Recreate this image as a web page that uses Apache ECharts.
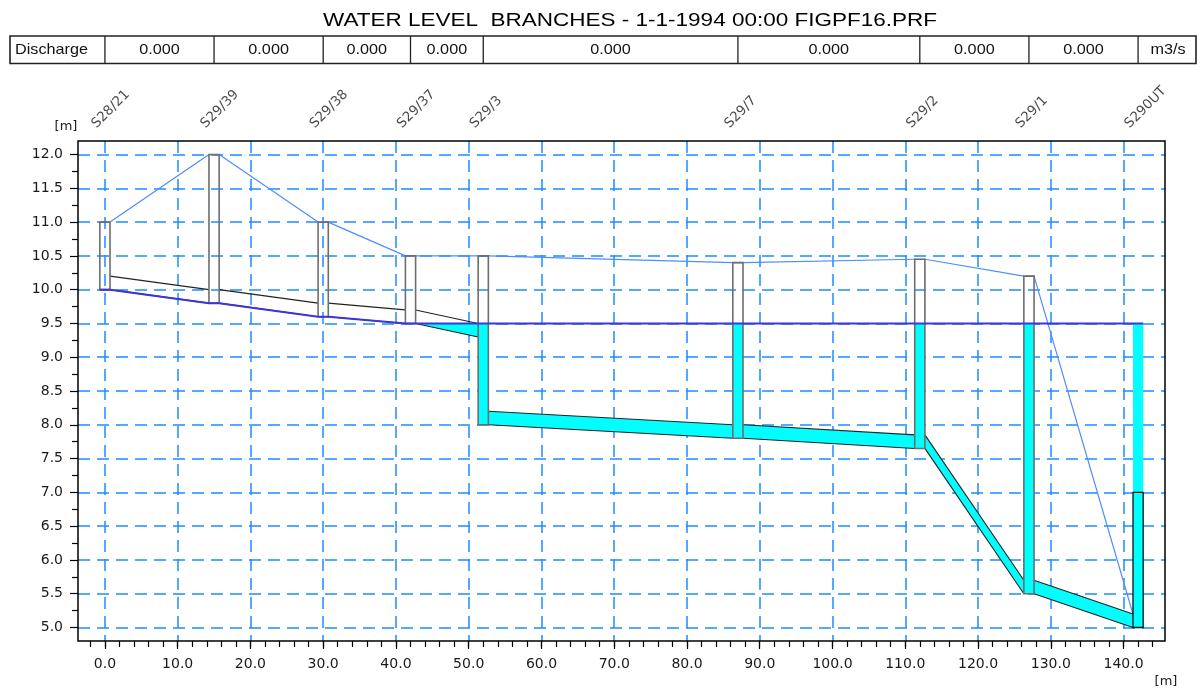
<!DOCTYPE html>
<html>
<head>
<meta charset="utf-8">
<title>Water level branches</title>
<script src="https://cdn.jsdelivr.net/npm/echarts@6/dist/echarts.min.js"></script>
<style>
  html, body { margin: 0; padding: 0; background: #fff; }
  #chart { width: 1200px; height: 689px; }
</style>
</head>
<body>
<div id="chart"></div>
<script>
// ---- Longitudinal profile data (levels in m, chainage in m) ----
const stations    = ['S28/21', 'S29/39', 'S29/38', 'S29/37', 'S29/3', 'S29/7', 'S29/2', 'S29/1', 'S290UT'];
const chainage    = [0, 15, 30, 42, 52, 87, 112, 127, 142];
const nodeBottom  = [10.0, 9.8, 9.6, 9.5, 8.0, 7.8, 7.65, 5.5, 5.0];
const nodeTop     = [11.0, 12.0, 11.0, 10.5, 10.5, 10.4, 10.45, 10.2, 7.0];
const groundLevel = [11.0, 12.0, 11.0, 10.5, 10.5, 10.4, 10.45, 10.2, 5.2];
const waterLevel  = [10.0, 9.8, 9.6, 9.5, 9.5, 9.5, 9.5, 9.5, 9.5];

// conduits between consecutive nodes (upstream / downstream end)
const bedUp     = [10.0, 9.8, 9.6, 9.5, 8.0, 7.8, 7.65, 5.5];
const bedDown   = [9.8, 9.6, 9.5, 9.3, 7.8, 7.65, 5.5, 5.0];
const crownUp   = [10.2, 10.0, 9.8, 9.7, 8.2, 8.0, 7.85, 5.7];
const crownDown = [10.0, 9.8, 9.7, 9.5, 8.0, 7.85, 5.7, 5.2];
const discharge = [0, 0, 0, 0, 0, 0, 0, 0];

// axis ticks
const xMajorTicks = [0, 10, 20, 30, 40, 50, 60, 70, 80, 90, 100, 110, 120, 130, 140];
const yMajorTicks = [5.0, 5.5, 6.0, 6.5, 7.0, 7.5, 8.0, 8.5, 9.0, 9.5, 10.0, 10.5, 11.0, 11.5, 12.0];
const xMinorTicks = [];
for (let v = -2; v <= 144; v += 2) xMinorTicks.push(v);
const yMinorTicks = [];
for (let v = 5.25; v < 12; v += 0.5) yMinorTicks.push(Math.round(v * 100) / 100);

const X_MIN = -3.7, X_MAX = 145.7, Y_MIN = 4.8, Y_MAX = 12.2;
const NODE_HALF = 0.7;          // half width of a manhole box
const GRID = { left: 78, top: 141, right: 35, bottom: 48 };
const W = 1200, H = 689;

const LABEL_FONT = '"DejaVu Sans", "Liberation Sans", sans-serif';
const TEXT_FONT = '"Liberation Sans", Arial, Helvetica, sans-serif';
const GRID_BLUE = '#1e8cff';
const CYAN = '#00ffff';

// ---- derived polylines ----
const waterLine = [];
chainage.forEach((c, i) => {
  waterLine.push([c - NODE_HALF, waterLevel[i]]);
  waterLine.push([c + NODE_HALF, waterLevel[i]]);
});
const groundLine = [];
chainage.forEach((c, i) => {
  if (i > 0) groundLine.push([c - NODE_HALF, groundLevel[i]]);
  if (i < chainage.length - 1) groundLine.push([c + NODE_HALF, groundLevel[i]]);
});
const reachData = bedUp.map((_, i) => [
  chainage[i] + NODE_HALF, chainage[i + 1] - NODE_HALF,
  bedUp[i], bedDown[i], crownUp[i], crownDown[i], waterLevel[i], waterLevel[i + 1]
]);
const nodeData = chainage.map((c, i) => [c, nodeBottom[i], nodeTop[i], waterLevel[i], i]);

// ---- render helpers ----
function nodeWaterItem(params, api) {
  const c = api.value(0), b = api.value(1), wl = api.value(3);
  if (wl <= b) return { type: 'group', children: [] };
  const p1 = api.coord([c - NODE_HALF, wl]);
  const p2 = api.coord([c + NODE_HALF, b]);
  return {
    type: 'rect',
    shape: { x: p1[0], y: p1[1], width: p2[0] - p1[0], height: p2[1] - p1[1] },
    style: { fill: CYAN }
  };
}

function nodeBoxItem(params, api) {
  const c = api.value(0), b = api.value(1), t = api.value(2), idx = api.value(4);
  const p1 = api.coord([c - NODE_HALF, t]);
  const p2 = api.coord([c + NODE_HALF, b]);
  const outlet = idx === chainage.length - 1;
  return {
    type: 'rect',
    shape: { x: p1[0], y: p1[1], width: p2[0] - p1[0], height: p2[1] - p1[1] },
    style: { fill: null, stroke: outlet ? '#111' : '#6e6e6e', lineWidth: outlet ? 1.3 : 1.6 }
  };
}

function reachItem(params, api) {
  const x0 = api.value(0), x1 = api.value(1);
  const bu = api.value(2), bd = api.value(3), cu = api.value(4), cd = api.value(5);
  const wu = api.value(6), wd = api.value(7);
  const su = Math.max(bu, Math.min(cu, wu));
  const sd = Math.max(bd, Math.min(cd, wd));
  const children = [];
  if (su > bu || sd > bd) {
    children.push({
      type: 'polygon',
      shape: { points: [[x0, bu], [x1, bd], [x1, sd], [x0, su]].map(p => api.coord(p)) },
      style: { fill: CYAN }
    });
  }
  children.push({
    type: 'polyline',
    shape: { points: [api.coord([x0, cu]), api.coord([x1, cd])] },
    style: { stroke: '#222', lineWidth: 1.1, fill: null }
  });
  children.push({
    type: 'polyline',
    shape: { points: [api.coord([x0, bu]), api.coord([x1, bd])] },
    style: { stroke: '#222', lineWidth: 1.1, fill: null }
  });
  return { type: 'group', children };
}

const chart = echarts.init(document.getElementById('chart'), null, { renderer: 'canvas' });

const axisLabelStyle = { color: '#1a1a1a', fontSize: 14, fontFamily: LABEL_FONT };
const hiddenLine = { show: false, onZero: false };

chart.setOption({
  animation: false,
  backgroundColor: '#fff',
  grid: Object.assign({ containLabel: false, outerBoundsMode: 'none' }, GRID),
  xAxis: [
    {
      type: 'value', position: 'bottom', min: X_MIN, max: X_MAX,
      minInterval: 10, maxInterval: 10,
      axisLine: hiddenLine,
      axisTick: { show: true, length: 8, customValues: xMajorTicks, lineStyle: { color: '#000', width: 1.2 } },
      axisLabel: Object.assign({ margin: 16, customValues: xMajorTicks, formatter: v => v.toFixed(1) }, axisLabelStyle),
      splitLine: { show: true, lineStyle: { color: GRID_BLUE, width: 1.5, type: [12, 7] } }
    },
    {
      type: 'value', position: 'bottom', min: X_MIN, max: X_MAX,
      axisLine: hiddenLine,
      axisTick: { show: true, length: 6, customValues: xMinorTicks, lineStyle: { color: '#000', width: 1.2 } },
      axisLabel: { show: false },
      splitLine: { show: false }
    }
  ],
  yAxis: [
    {
      type: 'value', position: 'left', min: Y_MIN, max: Y_MAX,
      minInterval: 0.5, maxInterval: 0.5,
      axisLine: hiddenLine,
      axisTick: { show: true, length: 8, customValues: yMajorTicks, lineStyle: { color: '#000', width: 1.2 } },
      axisLabel: Object.assign({ margin: 15, customValues: yMajorTicks, formatter: v => v.toFixed(1) }, axisLabelStyle),
      splitLine: { show: true, lineStyle: { color: GRID_BLUE, width: 1.5, type: [12, 7] } }
    },
    {
      type: 'value', position: 'left', min: Y_MIN, max: Y_MAX,
      axisLine: hiddenLine,
      axisTick: { show: true, length: 6, customValues: yMinorTicks, lineStyle: { color: '#000', width: 1.2 } },
      axisLabel: { show: false },
      splitLine: { show: false }
    }
  ],
  series: [
    {
      name: 'node water', type: 'custom', z: 2, xAxisIndex: 0, yAxisIndex: 0,
      data: nodeData, encode: { x: 0, y: [1, 2] }, renderItem: nodeWaterItem
    },
    {
      name: 'conduits', type: 'custom', z: 3, xAxisIndex: 0, yAxisIndex: 0,
      data: reachData, encode: { x: [0, 1], y: [2, 3, 4, 5] }, renderItem: reachItem
    },
    {
      name: 'ground level', type: 'line', z: 4, xAxisIndex: 0, yAxisIndex: 0,
      data: groundLine, showSymbol: false, symbol: 'none',
      lineStyle: { color: '#4d8eff', width: 1.2 }
    },
    {
      name: 'manholes', type: 'custom', z: 5, xAxisIndex: 0, yAxisIndex: 0,
      data: nodeData, encode: { x: 0, y: [1, 2] }, renderItem: nodeBoxItem
    },
    {
      name: 'water level', type: 'line', z: 6, xAxisIndex: 0, yAxisIndex: 0,
      data: waterLine, showSymbol: false, symbol: 'none',
      lineStyle: { color: '#3e36d6', width: 2 }
    },
    {
      name: 'stations', type: 'scatter', z: 7, xAxisIndex: 0, yAxisIndex: 0,
      data: chainage.map(c => [c, Y_MAX]), symbolSize: 0, clip: false, silent: true,
      label: {
        show: true, formatter: p => stations[p.dataIndex],
        position: [-6, -10], align: 'left', verticalAlign: 'bottom', rotate: 45,
        color: '#1a1a1a', fontSize: 13.5, fontFamily: LABEL_FONT
      }
    }
  ]
});

// ---- title, discharge table, axis units and plot frame ----
const px = chainage.map(c => chart.convertToPixel({ xAxisIndex: 0 }, c));
const TABLE = { left: 10, right: 1196, top: 36, bottom: 63.5 };
const tableMid = (TABLE.top + TABLE.bottom) / 2;
const tableFont = { fontSize: 15, fontFamily: TEXT_FONT, fill: '#111' };

const graphics = [];
graphics.push({
  type: 'text', x: 630, y: 21, scaleX: 1.25, z: 100,
  style: Object.assign({ text: 'WATER LEVEL  BRANCHES - 1-1-1994 00:00 FIGPF16.PRF', align: 'center', verticalAlign: 'middle' },
    { fontSize: 18, fontFamily: TEXT_FONT, fill: '#000' })
});
graphics.push({
  type: 'rect', z: 100,
  shape: { x: TABLE.left, y: TABLE.top, width: TABLE.right - TABLE.left, height: TABLE.bottom - TABLE.top },
  style: { fill: null, stroke: '#222', lineWidth: 1.6 }
});
px.forEach(x => {
  graphics.push({
    type: 'line', z: 100,
    shape: { x1: x, y1: TABLE.top, x2: x, y2: TABLE.bottom },
    style: { stroke: '#222', lineWidth: 1.3 }
  });
});
graphics.push({
  type: 'text', x: 15, y: tableMid, scaleX: 1.08, z: 100,
  style: Object.assign({ text: 'Discharge', align: 'left', verticalAlign: 'middle' }, tableFont)
});
discharge.forEach((q, i) => {
  graphics.push({
    type: 'text', x: (px[i] + px[i + 1]) / 2, y: tableMid, scaleX: 1.08, z: 100,
    style: Object.assign({ text: q.toFixed(3), align: 'center', verticalAlign: 'middle' }, tableFont)
  });
});
graphics.push({
  type: 'text', x: (px[px.length - 1] + TABLE.right) / 2 + 1, y: tableMid, scaleX: 1.08, z: 100,
  style: Object.assign({ text: 'm3/s', align: 'center', verticalAlign: 'middle' }, tableFont)
});

// unit labels
graphics.push({
  type: 'text', x: 66, y: 127, z: 100,
  style: { text: '[m]', align: 'center', verticalAlign: 'middle', fontSize: 13, fontFamily: LABEL_FONT, fill: '#1a1a1a' }
});
graphics.push({
  type: 'text', x: 1166, y: 682, z: 100,
  style: { text: '[m]', align: 'center', verticalAlign: 'middle', fontSize: 13, fontFamily: LABEL_FONT, fill: '#1a1a1a' }
});

// plot frame
graphics.push({
  type: 'rect', z: 100,
  shape: { x: GRID.left, y: GRID.top, width: W - GRID.left - GRID.right, height: H - GRID.top - GRID.bottom },
  style: { fill: null, stroke: '#000', lineWidth: 1.5 }
});

chart.setOption({ graphic: { elements: graphics } });
</script>
</body>
</html>
